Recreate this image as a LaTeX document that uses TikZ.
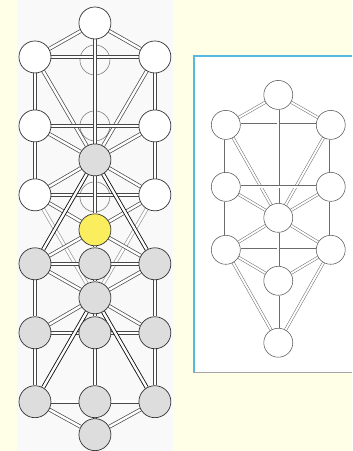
\documentclass[tikz,border=0pt]{standalone}
\usetikzlibrary{backgrounds}

\definecolor{paper}{RGB}{255,255,232}
\definecolor{panel}{RGB}{249,249,249}
\definecolor{shade}{RGB}{221,221,221}
\definecolor{glow}{RGB}{250,238,95}
\definecolor{frame}{RGB}{85,185,225}

\begin{document}
\begin{tikzpicture}[x=1pt, y=-1pt,
  sefira/.style={circle, draw=black!80, line width=0.7pt, fill=white, minimum size=32pt, inner sep=0pt},
  grey/.style={sefira, fill=shade},
  ghost/.style={circle, draw=black!50, line width=0.6pt, minimum size=30pt, inner sep=0pt},
  link/.style={draw=black!72, line width=0.7pt, double=white, double distance=2.4pt},
  darklink/.style={link, draw=black!95, line width=0.85pt},
  palelink/.style={link, draw=black!40},
  small/.style={circle, draw=black!65, line width=0.55pt, fill=white, minimum size=29pt, inner sep=0pt},
  thinlink/.style={draw=black!58, line width=0.5pt, double=white, double distance=1.9pt}
]
  % left ladder
  \node[sefira] (c0) at (95,23) {};
  \node[sefira] (l1) at (35,57) {};
  \node[sefira] (r1) at (155,57) {};
  \node[sefira] (l3) at (35,126) {};
  \node[sefira] (r3) at (155,126) {};
  \node[grey] (c4) at (95,160) {};
  \node[sefira] (l5) at (35,195) {};
  \node[sefira] (r5) at (155,195) {};
  \node[sefira, fill=glow] (c6) at (95,230) {};
  \node[grey] (l7) at (35,264) {};
  \node[grey] (c7) at (95,264) {};
  \node[grey] (r7) at (155,264) {};
  \node[grey] (c8) at (95,298) {};
  \node[grey] (l9) at (35,333) {};
  \node[grey] (c9) at (95,333) {};
  \node[grey] (r9) at (155,333) {};
  \node[grey] (l11) at (35,402) {};
  \node[grey] (c11) at (95,402) {};
  \node[grey] (r11) at (155,402) {};
  \node[grey] (c12) at (95,435) {};

  % right tree
  \node[small] (kether) at (278.5,95) {};
  \node[small] (chokmah) at (226,125) {};
  \node[small] (binah) at (331,125) {};
  \node[small] (chesed) at (226,187) {};
  \node[small] (geburah) at (331,187) {};
  \node[small] (tiphareth) at (278.5,218) {};
  \node[small] (netzach) at (226,250) {};
  \node[small] (hod) at (331,250) {};
  \node[small] (yesod) at (278.5,281) {};
  \node[small] (malkuth) at (278.5,343) {};

  \begin{scope}[on background layer]
    \fill[paper] (0,0) rectangle (352,451);
    \fill[panel] (17,0) rectangle (173,451);
    \fill[white] (194,56) rectangle (352,373);
    \draw[frame, line width=1.4pt] (352,56) -- (194,56) -- (194,373);
    \draw[black!35, line width=1.2pt] (194,373) -- (352,373);

    \node[ghost] (f1) at (95,60) {};
    \node[ghost] (f3) at (95,126) {};
    \node[ghost] (f5) at (95,197) {};

    \draw[link] (c0) -- (l1);
    \draw[link] (c0) -- (r1);
    \draw[link] (l1) -- (r1);
    \draw[link] (l1) -- (l3);
    \draw[link] (r1) -- (r3);
    \draw[link] (l1) -- (c4);
    \draw[link] (r1) -- (c4);
    \draw[link] (l3) -- (r3);
    \draw[link] (l3) -- (c4);
    \draw[link] (r3) -- (c4);
    \draw[link] (l3) -- (l5);
    \draw[link] (r3) -- (r5);
    \draw[link] (c0) -- (c4);
    \draw[link] (c4) -- (l5);
    \draw[link] (c4) -- (r5);
    \draw[link] (l5) -- (r5);
    \draw[palelink] (l5) -- (c8);
    \draw[palelink] (r5) -- (c8);
    \draw[link] (l5) -- (c6);
    \draw[link] (r5) -- (c6);
    \draw[link] (c4) -- (c6);
    \draw[darklink] (c4) -- (l7);
    \draw[darklink] (c4) -- (r7);
    \draw[link] (c6) -- (l7);
    \draw[link] (c6) -- (r7);
    \draw[link] (c6) -- (c7);
    \draw[link] (l7) -- (c7);
    \draw[link] (c7) -- (r7);
    \draw[link] (l7) -- (c8);
    \draw[link] (r7) -- (c8);
    \draw[link] (c7) -- (c8);
    \draw[link] (l7) -- (l9);
    \draw[link] (r7) -- (r9);
    \draw[link] (c8) -- (l9);
    \draw[link] (c8) -- (r9);
    \draw[link] (c8) -- (c9);
    \draw[link] (l9) -- (c9);
    \draw[link] (c9) -- (r9);
    \draw[darklink] (c8) -- (l11);
    \draw[darklink] (c8) -- (r11);
    \draw[link] (l9) -- (l11);
    \draw[link] (r9) -- (r11);
    \draw[link] (c9) -- (c11);
    \draw[link] (l11) -- (c11);
    \draw[link] (c11) -- (r11);
    \draw[link] (l11) -- (c12);
    \draw[link] (r11) -- (c12);
    \draw[link] (c11) -- (c12);

    \draw[thinlink] (kether) -- (chokmah);
    \draw[thinlink] (kether) -- (binah);
    \draw[thinlink] (chokmah) -- (binah);
    \draw[thinlink] (kether) -- (tiphareth);
    \draw[thinlink] (chokmah) -- (chesed);
    \draw[thinlink] (binah) -- (geburah);
    \draw[thinlink] (chokmah) -- (tiphareth);
    \draw[thinlink] (binah) -- (tiphareth);
    \draw[thinlink] (chesed) -- (geburah);
    \draw[thinlink] (chesed) -- (tiphareth);
    \draw[thinlink] (geburah) -- (tiphareth);
    \draw[thinlink] (chesed) -- (netzach);
    \draw[thinlink] (geburah) -- (hod);
    \draw[thinlink] (tiphareth) -- (netzach);
    \draw[thinlink] (tiphareth) -- (hod);
    \draw[thinlink] (netzach) -- (hod);
    \draw[thinlink] (tiphareth) -- (yesod);
    \draw[thinlink] (netzach) -- (yesod);
    \draw[thinlink] (hod) -- (yesod);
    \draw[thinlink] (netzach) -- (malkuth);
    \draw[thinlink] (hod) -- (malkuth);
    \draw[thinlink] (yesod) -- (malkuth);
  \end{scope}
\end{tikzpicture}
\end{document}
